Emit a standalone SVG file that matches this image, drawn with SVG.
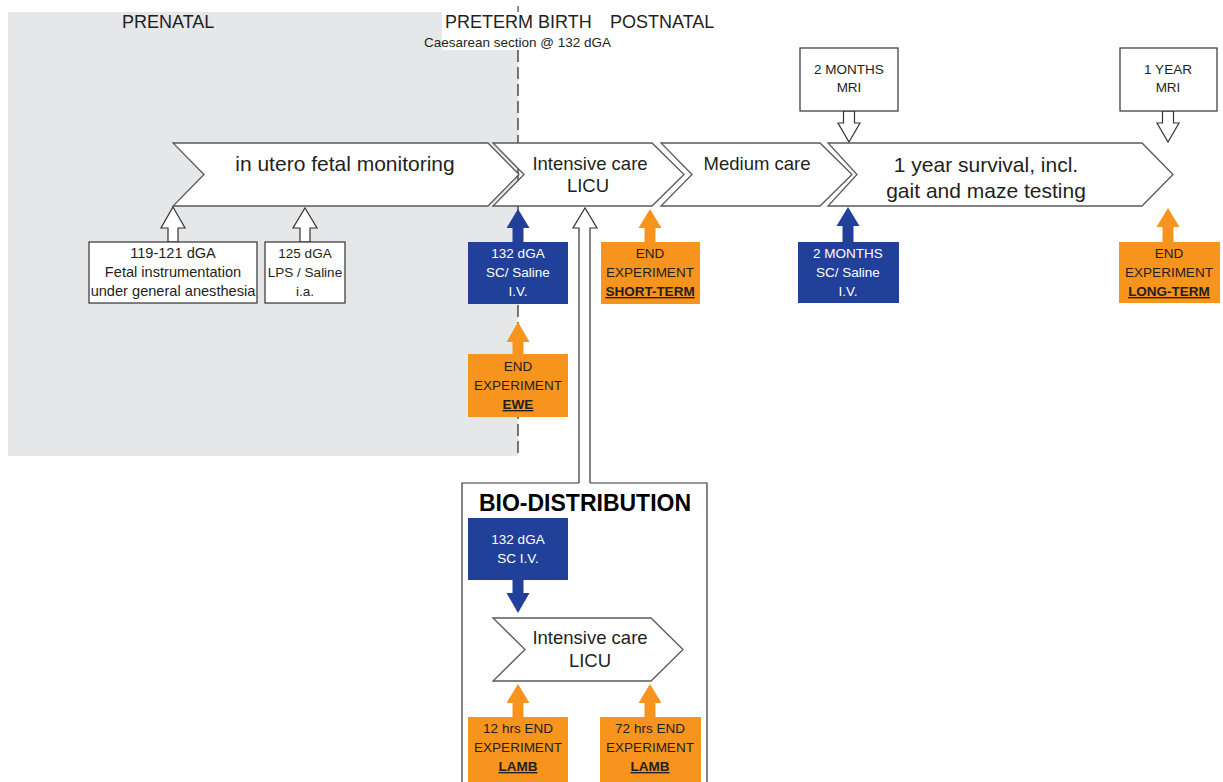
<svg xmlns="http://www.w3.org/2000/svg" width="1223" height="782" viewBox="0 0 1223 782">
<style>
text{font-family:"Liberation Sans",Arial,sans-serif;fill:#231f20}
.hd{font-size:18px}
.sub{font-size:13.5px}
.chev{fill:#fff;stroke:#58595b;stroke-width:1.3}
.box{fill:#fff;stroke:#333;stroke-width:1.2}
.blue{fill:#21409a}
.orange{fill:#f7941d}
.t{font-size:13.5px;text-anchor:middle}
.tl{font-size:14.6px;text-anchor:middle}
.w{fill:#fff}
.b{font-weight:bold;text-decoration:underline}
.c1{font-size:21px;text-anchor:middle}
.c2{font-size:18.5px;text-anchor:middle}
.hollow{fill:#fff;stroke:#333;stroke-width:1.2}
</style>
<rect width="1223" height="782" fill="#fff"/>
<g id="background">
<rect x="8" y="12" width="510" height="444" fill="#e6e7e8"/>
<line x1="518" y1="50" x2="518" y2="456" stroke="#231f20" stroke-width="1.2" stroke-dasharray="12 5"/>
<line x1="518" y1="6" x2="518" y2="12" stroke="#231f20" stroke-width="1"/>
<rect x="442" y="12" width="76" height="38" fill="#fff"/>
</g>
<g id="headers">
<text class="hd" x="122" y="28">PRENATAL</text>
<text class="hd" x="445" y="28">PRETERM BIRTH</text>
<text class="hd" x="610" y="28">POSTNATAL</text>
<text class="sub" x="424" y="47">Caesarean section @ 132 dGA</text>
</g>
<g id="connectors">
<polygon class="hollow" points="173,207 185,228 178,228 178,242 168,242 168,228 161,228"/>
<polygon class="hollow" points="305,208 317,228 310,228 310,242 300,242 300,228 293,228"/>
<polygon class="hollow" points="849,142 860,123 854.5,123 854.5,111 843.5,111 843.5,123 838,123"/>
<polygon class="hollow" points="1168,142 1179,123 1173.5,123 1173.5,111 1162.5,111 1162.5,123 1157,123"/>
<polygon class="blue" points="518,209 529.5,228 523.5,228 523.5,243 512.5,243 512.5,228 506.5,228"/>
<polygon class="orange" points="650,209 661.5,228 655.5,228 655.5,243 644.5,243 644.5,228 638.5,228"/>
<polygon class="blue" points="848,207 859.5,226 853.5,226 853.5,243 842.5,243 842.5,226 836.5,226"/>
<polygon class="orange" points="1168,208 1179.5,227 1173.5,227 1173.5,243 1162.5,243 1162.5,227 1156.5,227"/>
<polygon class="orange" points="518,322 529.5,342 523.5,342 523.5,355 512.5,355 512.5,342 506.5,342"/>
<polygon class="blue" points="518,613 529.5,593 523.5,593 523.5,579 512.5,579 512.5,593 506.5,593"/>
<polygon class="orange" points="518,684 529.5,703 523.5,703 523.5,718 512.5,718 512.5,703 506.5,703"/>
<polygon class="orange" points="650,684 661.5,703 655.5,703 655.5,718 644.5,718 644.5,703 638.5,703"/>
<polyline fill="#fff" stroke="#333" stroke-width="1.2" points="579,483 579,228 573,228 585,208 597,228 590,228 590,483"/>
</g>
<g id="chevron-fetal">
<polygon class="chev" points="173,143 488,143 519,174.5 488,206 173,206 204,174.5"/>
<text class="c1" x="345" y="171">in utero fetal monitoring</text>
</g>
<g id="chevron-intensive">
<polygon class="chev" points="493,143 652,143 684,174.5 652,206 493,206 524,174.5"/>
<text class="c2" x="590" y="169.5">Intensive care</text>
<text class="c2" x="588" y="191.5">LICU</text>
</g>
<g id="chevron-medium">
<polygon class="chev" points="661,143 820,143 852,174.5 820,206 661,206 692,174.5"/>
<text class="c2" x="757" y="169.5">Medium care</text>
</g>
<g id="chevron-survival">
<polygon class="chev" points="828,143 1142,143 1173,174.5 1142,206 828,206 857,174.5"/>
<text class="c1" x="986" y="172">1 year survival, incl.</text>
<text class="c1" x="986" y="198">gait and maze testing</text>
</g>
<g id="box-instrumentation">
<rect class="box" x="89" y="242" width="168" height="61"/>
<text class="tl" x="173" y="258">119-121 dGA</text>
<text class="tl" x="173" y="277">Fetal instrumentation</text>
<text class="tl" x="173" y="296">under general anesthesia</text>
</g>
<g id="box-lps">
<rect class="box" x="265" y="242" width="80" height="61"/>
<text class="t" x="305" y="258">125 dGA</text>
<text class="t" x="305" y="277">LPS / Saline</text>
<text class="t" x="305" y="296">i.a.</text>
</g>
<g id="box-sc-132">
<rect class="blue" x="468" y="242" width="100" height="62"/>
<text class="t w" x="518" y="258">132 dGA</text>
<text class="t w" x="518" y="277">SC/ Saline</text>
<text class="t w" x="518" y="296">I.V.</text>
</g>
<g id="box-end-short">
<rect class="orange" x="601" y="242" width="99" height="62"/>
<text class="t" x="650" y="258">END</text>
<text class="t" x="650" y="277">EXPERIMENT</text>
<text class="t b" x="650" y="296">SHORT-TERM</text>
</g>
<g id="box-sc-2months">
<rect class="blue" x="798" y="242" width="101" height="61"/>
<text class="t w" x="848" y="258">2 MONTHS</text>
<text class="t w" x="848" y="277">SC/ Saline</text>
<text class="t w" x="848" y="296">I.V.</text>
</g>
<g id="box-end-long">
<rect class="orange" x="1119" y="242" width="101" height="61"/>
<text class="t" x="1169" y="258">END</text>
<text class="t" x="1169" y="277">EXPERIMENT</text>
<text class="t b" x="1169" y="296">LONG-TERM</text>
</g>
<g id="box-mri-2months">
<rect class="box" x="800" y="48" width="98" height="63"/>
<text class="t" x="849" y="74">2 MONTHS</text>
<text class="t" x="849" y="92">MRI</text>
</g>
<g id="box-mri-1year">
<rect class="box" x="1120" y="48" width="97" height="63"/>
<text class="t" x="1168" y="74">1 YEAR</text>
<text class="t" x="1168" y="92">MRI</text>
</g>
<g id="box-end-ewe">
<rect class="orange" x="468" y="354" width="100" height="63"/>
<text class="t" x="518" y="371">END</text>
<text class="t" x="518" y="390">EXPERIMENT</text>
<text class="t b" x="518" y="409">EWE</text>
</g>
<g id="bio-distribution">
<path d="M579,483 H462 V790 M590,483 H707 V790" fill="none" stroke="#333" stroke-width="1.2"/>
<text x="585" y="511" font-size="23" font-weight="bold" text-anchor="middle" style="fill:#000">BIO-DISTRIBUTION</text>
</g>
<g id="bio-sc">
<rect class="blue" x="468" y="518" width="100" height="62"/>
<text class="t w" x="518" y="544">132 dGA</text>
<text class="t w" x="518" y="563">SC I.V.</text>
</g>
<g id="bio-intensive">
<polygon class="chev" points="493,618 651,618 683,649.5 651,681 493,681 525,649.5"/>
<text class="c2" x="590" y="644">Intensive care</text>
<text class="c2" x="590" y="667">LICU</text>
</g>
<g id="bio-end-12">
<rect class="orange" x="468" y="717" width="100" height="65"/>
<text class="t" x="518" y="733">12 hrs END</text>
<text class="t" x="518" y="752">EXPERIMENT</text>
<text class="t b" x="518" y="771">LAMB</text>
</g>
<g id="bio-end-72">
<rect class="orange" x="600" y="717" width="101" height="65"/>
<text class="t" x="650" y="733">72 hrs END</text>
<text class="t" x="650" y="752">EXPERIMENT</text>
<text class="t b" x="650" y="771">LAMB</text>
</g>
</svg>
